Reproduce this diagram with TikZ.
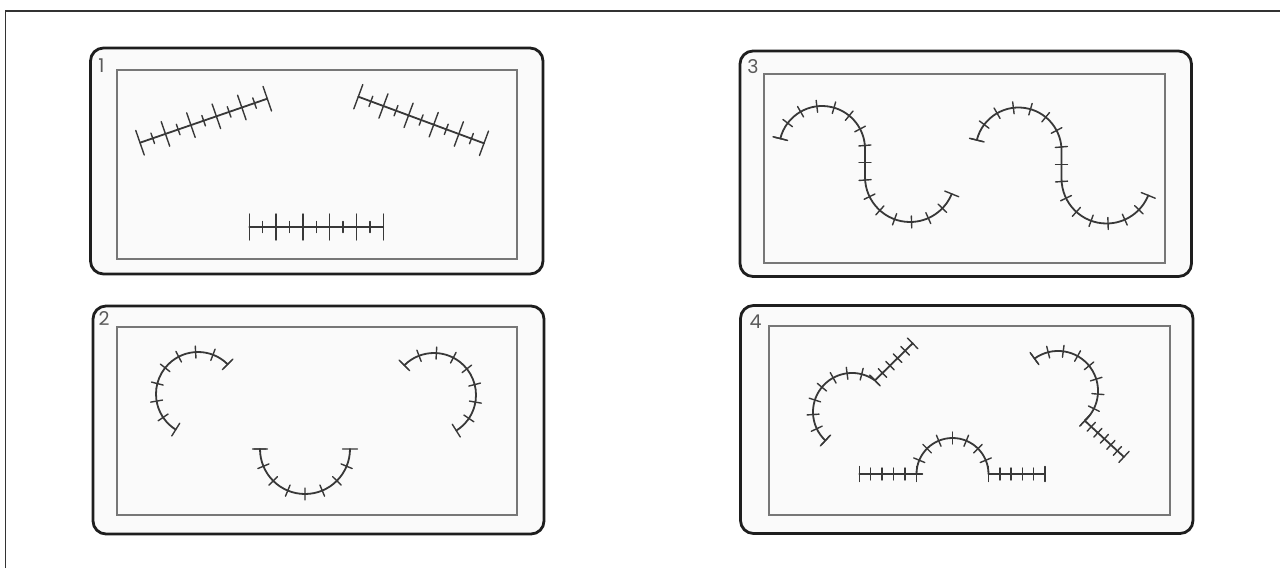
\documentclass[tikz,border=0pt]{standalone}
\usepackage{fontspec}
\newfontfamily\lblfont{Poppins}
\usetikzlibrary{decorations.markings}
\definecolor{framecol}{HTML}{333333}
\definecolor{panelline}{HTML}{1E1E1E}
\definecolor{panelfill}{HTML}{FAFAFA}
\definecolor{innerline}{HTML}{777777}
\definecolor{ink}{HTML}{383838}
\definecolor{lblgray}{HTML}{5A5A5A}
\tikzset{
  frameline/.style={draw=framecol, line width=1.7pt},
  panel/.style={draw=panelline, line width=2.8pt, fill=panelfill, rounded corners=13pt},
  innerbox/.style={draw=innerline, line width=1.8pt},
  lbl/.style={text=lblgray, font=\lblfont\fontsize{19}{19}\selectfont, inner sep=0pt},
  tickline/.style={draw=ink, line width=1.4pt},
  suture/.style={draw=ink, line width=1.8pt, line cap=round},
  stitch/.style={suture, postaction={decorate, decoration={markings,
      mark=between positions 0 and 0.999 step #1 with {\draw[tickline] (0,-6) -- (0,6);}}}},
  endA/.style={postaction={decorate, decoration={markings,
      mark=at position 0 with {\draw[tickline] (0,-7.5) -- (0,7.5);}}}},
  endB/.style={postaction={decorate, decoration={markings,
      mark=at position 0.9999 with {\draw[tickline] (0,-7.5) -- (0,7.5);}}}},
  ladder/.style={suture,
    postaction={decorate, decoration={markings,
      mark=between positions 0 and 0.999 step 0.2 with {\draw[tickline] (0,-13) -- (0,13);}}},
    postaction={decorate, decoration={markings,
      mark=at position 0.9999 with {\draw[tickline] (0,-13) -- (0,13);}}},
    postaction={decorate, decoration={markings,
      mark=between positions 0.1 and 0.999 step 0.2 with {\draw[tickline] (0,-5.5) -- (0,5.5);}}}},
}
\begin{document}
\begin{tikzpicture}[x=1pt, y=1pt]
\useasboundingbox (0,0) rectangle (1280,-568);
\fill[white] (0,0) rectangle (1280,-568);
% outer frame
\draw[frameline] (5.5,-568) -- (5.5,-11) -- (1280,-11);

% panels
\draw[panel] (90.5,-48) rectangle (543,-274);
\draw[innerbox] (117.3,-70.3) rectangle (517.3,-258.7);
\draw[panel] (740,-51) rectangle (1191.5,-276.5);
\draw[innerbox] (764,-74) rectangle (1164.7,-262.7);
\draw[panel] (93,-306) rectangle (544,-534);
\draw[innerbox] (117.3,-327) rectangle (517.3,-515);
\draw[panel] (740.5,-305.5) rectangle (1193,-533.5);
\draw[innerbox] (768.7,-326.3) rectangle (1169.7,-515);

% labels
\node[lbl] (l1) at (101.5,-65.5) {1};
\node[lbl] (l2) at (104,-319) {2};
\node[lbl] (l3) at (753,-66.5) {3};
\node[lbl] (l4) at (755.5,-322) {4};

% panel 1 : straight sutures
\draw[ladder] (140,-142.7) -- (267.3,-98.7);
\draw[ladder] (358.3,-96.7) -- (484,-143.3);
\draw[ladder] (249.3,-227) -- (383.3,-227);

% panel 2 : arcs
\draw[stitch=0.125, endA, endB] (227.7,-364.3) arc[start angle=45, end angle=238, radius=42];
\draw[stitch=0.125, endA, endB] (404.3,-365.3) arc[start angle=135, end angle=-58, radius=42];
\draw[stitch=0.125, endA, endB] (260,-449) arc[start angle=180, end angle=360, radius=45];

% panel 3 : S curves
\draw[stitch=0.0625, endA, endB] (780.3,-138.6) arc[start angle=166, end angle=0, radius=43]
  -- ++(0,-28) arc[start angle=180, end angle=338, radius=45];
\begin{scope}[shift={(196.5,-1.5)}]
\draw[stitch=0.0625, endA, endB] (780.3,-138.6) arc[start angle=166, end angle=0, radius=43]
  -- ++(0,-28) arc[start angle=180, end angle=338, radius=45];
\end{scope}

% panel 4 : combined
\draw[stitch=0.125, endA] (825.4,-440.5) arc[start angle=227, end angle=54, radius=39] coordinate (c1);
\coordinate (c1end) at (912.7,-343.3);
\draw[stitch=0.2, endA, endB] (c1) -- (c1end);

\draw[stitch=0.125, endA] (1034.5,-358.6) arc[start angle=126, end angle=-48, radius=40] coordinate (c2);
\coordinate (c2end) at (1124,-457);
\draw[stitch=0.1667, endA, endB] (c2) -- (c2end);

\coordinate (b0) at (859.3,-474);
\coordinate (b1) at (916.5,-474);
\coordinate (b2) at (988.5,-474);
\coordinate (b3) at (1045,-474);
\draw[stitch=0.2, endA, endB] (b0) -- (b1);
\draw[stitch=0.125] (b1) arc[start angle=180, end angle=0, radius=36];
\draw[stitch=0.2, endA, endB] (b2) -- (b3);
\end{tikzpicture}
\end{document}
